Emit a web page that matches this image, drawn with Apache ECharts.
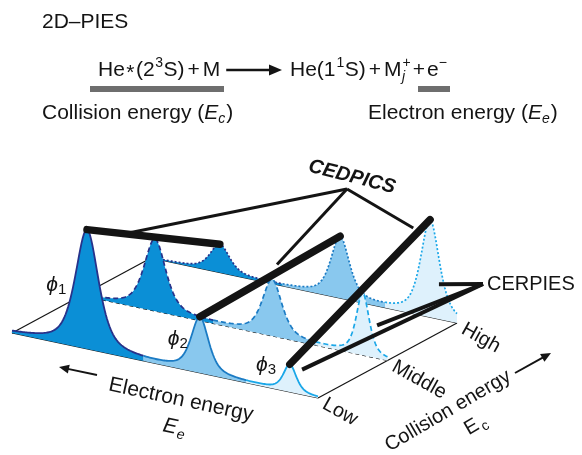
<!DOCTYPE html>
<html>
<head>
<meta charset="utf-8">
<script src="https://cdn.jsdelivr.net/npm/echarts@6/dist/echarts.min.js"></script>
<style>
  html, body { margin: 0; padding: 0; background: #fff; }
  #chart { width: 582px; height: 455px; }
</style>
</head>
<body>
<div id="chart"></div>
<script>
// ---- data --------------------------------------------------------------
// Collision-energy rows, front to back
const rows = ['Low', 'Middle', 'High'];
// Ionic states
const states = ['1', '2', '3'];
// Electron energy of each band (arb. units, 0 = left end of the plane, 10 = right end)
const peakCenters = [
  [2.45, 6.14, 9.08],   // Low
  [2.40, 6.23, 9.19],   // Middle
  [2.25, 6.18, 9.12]    // High
];
// Band intensities (arb. units)
const peakHeights = [
  [119, 55, 27],
  [72, 56, 62],
  [28, 61, 97]
];
// Band half widths (electron-energy units)
const peakWidths = [
  [0.45, 0.34, 0.25],
  [0.42, 0.38, 0.25],
  [0.38, 0.36, 0.36]
];
// Electron-energy ranges that belong to each state
const stateRanges = [0, 4.3, 7.65, 10];

// ---- layout / style ----------------------------------------------------
const FONT = '"Liberation Sans", Arial, Helvetica, sans-serif';
const INK = '#141414';
// oblique projection of (electron energy, row, intensity) onto the sheet
const G = { ox: 12, oy: 333, ux: 30.6, uy: 6.5, vx: 69.5, vy: -37.5, k: 1 };
const LORENTZ_SHARE = 0.6;          // band profile: Lorentzian / Gaussian mix
const FILL = ['#0b8fd6', '#89c8ee', '#def1fc'];
const STROKE = ['#28328a', '#1b7bc4', '#1aa7e8'];
const ROW_DASH = [null, [5, 3], [2, 2]];
const PHI_LABEL = [[-1.0, 57], [-0.72, 29], [-0.78, 22]];   // offset in energy, height
const CED_HUB = [347, 189];
const CED_T = [0.33, 0.55, 0.88];
const CED_LIFT = [2, 8, 9];
const CER_HUB = [483, 284];
const CER_TARGET = [[9.48, 0, 25], [9.66, 1, 33], [9.41, 2, 35]];

const ctx2d = document.createElement('canvas').getContext('2d');
function textWidth(t, size, italic) {
  ctx2d.font = (italic ? 'italic ' : '') + size + 'px ' + FONT;
  return ctx2d.measureText(t).width;
}

function spectrum(r, ee) {
  let s = 0;
  for (let k = 0; k < states.length; k++) {
    const w = peakWidths[r][k], d = ee - peakCenters[r][k];
    const lor = w * w / (d * d + w * w);
    const gau = Math.exp(-Math.LN2 * d * d / (w * w));
    s += peakHeights[r][k] * (LORENTZ_SHARE * lor + (1 - LORENTZ_SHARE) * gau);
  }
  return s;
}
function proj(api, ee, r, h) {
  return api.coord([G.ox + G.ux * ee + G.vx * r, G.oy + G.uy * ee + G.vy * r - G.k * h]);
}
function topOf(api, r, k) {
  const c = peakCenters[r][k];
  return proj(api, c, r, spectrum(r, c));
}

// ---- text helpers for the header ------------------------------------------
function tx(x, y, t, size, extra) {
  return {
    type: 'text', x: x, y: y, silent: true,
    style: Object.assign({ text: t, fontSize: size, fontFamily: FONT, fill: INK,
      align: 'left', verticalAlign: 'middle' }, extra || {})
  };
}
function run(x0, y0, pieces) {
  const els = [];
  let x = x0;
  pieces.forEach(function (p) {
    x += p.pre || 0;
    els.push(tx(x, y0 + (p.dy || 0), p.t, p.size, p.italic ? { fontStyle: 'italic' } : null));
    if (p.advance !== false) x += textWidth(p.t, p.size, p.italic);
    x += p.post || 0;
  });
  return { els: els, end: x };
}
function arrow(x1, y1, x2, y2, lw, hl, hw) {
  const dx = x2 - x1, dy = y2 - y1, L = Math.hypot(dx, dy);
  const ux = dx / L, uy = dy / L;
  const bx = x2 - ux * hl, by = y2 - uy * hl;
  return [
    { type: 'line', silent: true, shape: { x1: x1, y1: y1, x2: bx + ux, y2: by + uy },
      style: { stroke: INK, lineWidth: lw } },
    { type: 'polygon', silent: true,
      shape: { points: [[x2, y2], [bx - uy * hw, by + ux * hw], [bx + uy * hw, by - ux * hw]] },
      style: { fill: INK } }
  ];
}

const M = 21, S = 14;
const left = run(98, 70, [
  { t: 'He', size: M },
  { t: '*', size: M, dy: 3, pre: 1.5, post: 1.5 },
  { t: '(2', size: M },
  { t: '3', size: S, dy: -7, pre: 0.5 },
  { t: 'S)', size: M, pre: 0.5 },
  { t: '+', size: M, pre: 3, post: 3 },
  { t: 'M', size: M }
]);
const right = run(290, 70, [
  { t: 'He(1', size: M },
  { t: '1', size: S, dy: -7, pre: 1 },
  { t: 'S)', size: M, pre: 0.5 },
  { t: '+', size: M, pre: 3, post: 3 },
  { t: 'M', size: M },
  { t: 'j', size: S, dy: 7, italic: true, pre: 0.5, advance: false },
  { t: '+', size: S, dy: -7, pre: 0.5 },
  { t: '+', size: M, pre: 2, post: 2 },
  { t: 'e', size: M },
  { t: '\u2212', size: S, dy: -7 }
]);
const ecLine = run(42, 113, [
  { t: 'Collision energy (', size: M },
  { t: 'E', size: M, italic: true },
  { t: 'c', size: S, italic: true, dy: 6 },
  { t: ')', size: M, pre: 1 }
]);
const eeLine = run(368, 113, [
  { t: 'Electron energy (', size: M },
  { t: 'E', size: M, italic: true },
  { t: 'e', size: S, italic: true, dy: 6 },
  { t: ')', size: M, pre: 1 }
]);

const graphics = [].concat(
  [tx(42, 22, '2D\u2013PIES', 21)],
  left.els,
  arrow(left.end + 6, 70, 282, 70, 2.6, 13, 5.5),
  right.els,
  [
    { type: 'rect', silent: true, shape: { x: 90, y: 86, width: 134, height: 6 }, style: { fill: '#6e6e6e' } },
    { type: 'rect', silent: true, shape: { x: 418, y: 86, width: 32, height: 6 }, style: { fill: '#6e6e6e' } }
  ],
  ecLine.els,
  eeLine.els,
  arrow(97, 375, 59, 367, 2, 10, 4.5),
  arrow(515, 373, 551, 353, 2, 10, 4.5),
  [
    { type: 'group', x: 181, y: 400, rotation: -0.21, children: [
      tx(0, 0, 'Electron energy', M, { align: 'center' }) ] },
    { type: 'group', x: 176, y: 428, rotation: -0.21, children: [
      tx(-6, 0, 'E', M, { align: 'center', fontStyle: 'italic' }),
      tx(6, 6, 'e', S, { align: 'center', fontStyle: 'italic' }) ] },
    { type: 'group', x: 448, y: 411, rotation: 0.53, children: [
      tx(0, 0, 'Collision energy', 20, { align: 'center' }) ] },
    { type: 'group', x: 477, y: 424, rotation: 0.53, children: [
      tx(-6, 0, 'E', 20, { align: 'center' }),
      tx(6, 6, 'c', S, { align: 'center' }) ] },
    { type: 'group', x: 352, y: 177, rotation: -0.25, children: [
      tx(0, 0, 'CEDPICS', 20, { align: 'center', fontWeight: 'bold', fontStyle: 'italic' }) ] },
    tx(CER_HUB[0] + 4, CER_HUB[1], 'CERPIES', 20)
  ]
);

// ---- series ------------------------------------------------------------
const drawOrder = [];
for (let r = rows.length - 1; r >= 0; r--) {
  for (let k = 0; k < states.length; k++) drawOrder.push([r, k]);
}

function line(p1, p2, style) {
  return { type: 'line', shape: { x1: p1[0], y1: p1[1], x2: p2[0], y2: p2[1] }, style: style };
}

const chart = echarts.init(document.getElementById('chart'));
chart.setOption({
  animation: false,
  graphic: { elements: graphics },
  grid: { left: 0, right: 0, top: 0, bottom: 0 },
  xAxis: { type: 'value', min: 0, max: 582, show: false },
  yAxis: { type: 'value', min: 0, max: 455, inverse: true, show: false },
  series: [
    {
      // plane outline and row baselines
      type: 'custom', z: 1, silent: true,
      data: [[0, 0]],
      renderItem: function (params, api) {
        const thin = { stroke: INK, lineWidth: 1.2 };
        const last = rows.length - 1;
        const kids = [
          line(proj(api, 0, 0, 0), proj(api, 0, last, 0), thin),
          line(proj(api, 10, 0, 0), proj(api, 10, last, 0), thin)
        ];
        rows.forEach(function (name, r) {
          kids.push(line(proj(api, 0, r, 0), proj(api, 10, r, 0),
            r === 1 ? { stroke: INK, lineWidth: 1.1, lineDash: [4, 3] } : thin));
        });
        return { type: 'group', children: kids };
      }
    },
    {
      // photoelectron bands of each state in each row
      type: 'custom', z: 2, silent: true,
      data: drawOrder,
      renderItem: function (params, api) {
        const r = api.value(0), k = api.value(1);
        const a = stateRanges[k], b = stateRanges[k + 1];
        const pts = [];
        const n = Math.ceil((b - a) / 0.04);
        for (let i = 0; i <= n; i++) {
          const ee = a + (b - a) * i / n;
          pts.push(proj(api, ee, r, spectrum(r, ee)));
        }
        const poly = pts.concat([proj(api, b, r, 0), proj(api, a, r, 0)]);
        return {
          type: 'group',
          children: [
            { type: 'polygon', shape: { points: poly }, style: { fill: FILL[k] } },
            { type: 'polyline', shape: { points: pts },
              style: { fill: null, stroke: STROKE[k], lineWidth: r === 0 ? 1.8 : 1.7,
                lineDash: ROW_DASH[r] } }
          ]
        };
      }
    },
    {
      // constant-energy bars across the rows (CEDPICS)
      type: 'custom', z: 3, silent: true,
      data: states.map(function (s, k) { return [k, 0]; }),
      renderItem: function (params, api) {
        const k = api.value(0);
        const a = topOf(api, 0, k), b = topOf(api, rows.length - 1, k);
        return line(a, b, { stroke: INK, lineWidth: 7.5, lineCap: 'round' });
      }
    },
    {
      // callout lines
      type: 'custom', z: 4, silent: true,
      data: [[0, 0]],
      renderItem: function (params, api) {
        const kids = [];
        const hub = api.coord(CED_HUB);
        states.forEach(function (s, k) {
          const a = topOf(api, 0, k), b = topOf(api, rows.length - 1, k);
          const t = CED_T[k];
          const p = [a[0] + (b[0] - a[0]) * t, a[1] + (b[1] - a[1]) * t - CED_LIFT[k]];
          kids.push(line(hub, p, { stroke: INK, lineWidth: 3 }));
        });
        const hub2 = api.coord(CER_HUB);
        CER_TARGET.forEach(function (tg) {
          kids.push(line(hub2, proj(api, tg[0], tg[1], tg[2]),
            { stroke: INK, lineWidth: 4, lineCap: 'butt' }));
        });
        return { type: 'group', children: kids };
      }
    },
    {
      // state and row labels
      type: 'custom', z: 5, silent: true,
      data: [[0, 0]],
      renderItem: function (params, api) {
        const kids = [];
        states.forEach(function (s, k) {
          const p = proj(api, peakCenters[0][k] + PHI_LABEL[k][0], 0, PHI_LABEL[k][1]);
          kids.push({
            type: 'text', x: p[0], y: p[1],
            style: {
              text: '{a|\u03d5}{b|' + s + '}', align: 'center', verticalAlign: 'middle',
              rich: {
                a: { fontSize: 21, fontFamily: FONT, fontStyle: 'italic', fill: INK, lineHeight: 24 },
                b: { fontSize: 15, fontFamily: FONT, fill: INK, lineHeight: 16, verticalAlign: 'bottom' }
              }
            }
          });
        });
        rows.forEach(function (name, r) {
          const c = proj(api, 10, r, 0);
          kids.push({
            type: 'text', x: c[0] + 6, y: c[1] + 5, rotation: -0.51,
            style: { text: name, fontSize: 20, fontFamily: FONT, fill: INK,
              align: 'left', verticalAlign: 'middle' }
          });
        });
        return { type: 'group', children: kids };
      }
    }
  ]
});
</script>
</body>
</html>
